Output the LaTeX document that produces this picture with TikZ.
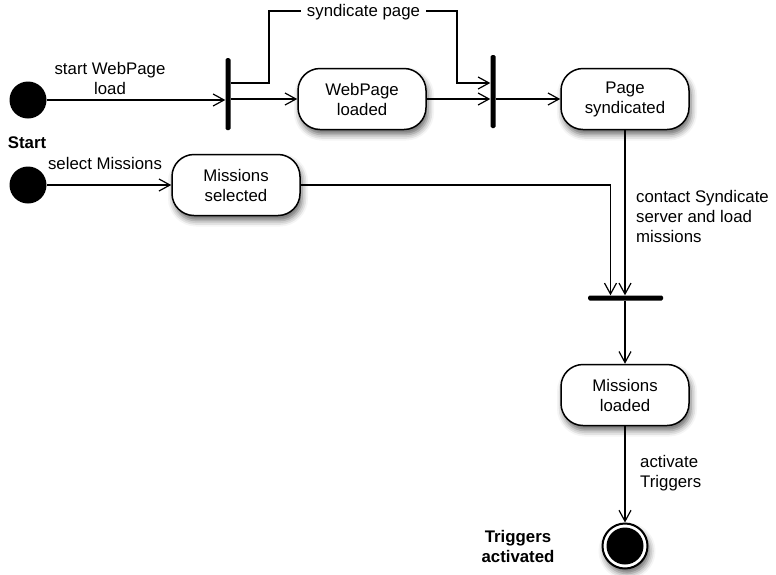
\documentclass[tikz,border=0pt]{standalone}
\usepackage{fontspec}
\setmainfont{Liberation Sans}
\usetikzlibrary{arrows.meta,shadows.blur,calc}
\begin{document}
\begin{tikzpicture}[x=1pt,y=-1pt,
  txt/.style={font=\fontsize{16.8}{20}\selectfont},
  boldtxt/.style={font=\fontsize{16.8}{20}\selectfont\bfseries},
  myshadow/.style={blur shadow={shadow xshift=2pt, shadow yshift=-5pt, shadow blur radius=6pt, shadow opacity=60}},
  state/.style={txt, draw, line width=1.5pt, fill=white, rounded corners=22pt, minimum width=128pt, minimum height=61pt, align=center, inner sep=0pt, myshadow},
  initst/.style={circle, fill=black, minimum size=37pt, inner sep=0pt},
  bar/.style={fill=black, inner sep=0pt, rounded corners=1.5pt},
  arr/.style={line width=1.2pt, -{Straight Barb[length=11pt, width=12pt, line width=1.2pt]}},
  lbl/.style={txt, align=center, inner sep=0pt},
]
\useasboundingbox (0,0) rectangle (776,574);

% initial states
\node[initst] (s1) at (28,100) {};
\node[initst] (s2) at (28,185) {};

% bars
\node[bar, minimum width=5pt, minimum height=72pt] (b1) at (228,94) {};
\node[bar, minimum width=5pt, minimum height=73pt] (b2) at (493,91.5) {};
\node[bar, minimum width=75pt, minimum height=5pt] (b3) at (625.5,298) {};

% states
\node[state] (wpl) at (362,99) {WebPage\\loaded};
\node[state] (ps) at (625,99) {Page\\syndicated};
\node[state] (ms) at (236,185) {Missions\\selected};
\node[state] (ml) at (625,395) {Missions\\loaded};

% final state
\node[circle, draw, line width=2pt, fill=white, minimum size=45pt, inner sep=0pt, myshadow] (fin) at (625,546) {};
\node[circle, fill=black, minimum size=37pt, inner sep=0pt] (finin) at (fin.center) {};

% connectors
\coordinate (syA) at (269,11);
\coordinate (syB) at (457,11);
\draw[arr] (s1) -- (s1 -| b1.west);
\draw[arr] (b1.east |- wpl) -- (wpl.west);
\draw[arr] (b1.east |- 0,83) -| (syA) -- (syB) |- (b2.west |- 0,83);
\node[txt, fill=white, inner xsep=6pt, inner ysep=2pt] (sylbl) at (363.5,12) {syndicate page};
\draw[arr] (wpl.east) -- (wpl.east -| b2.west);
\draw[arr] (b2.east |- ps) -- (ps.west);
\draw[arr] (s2) -- (ms.west);
\draw[arr] (ms.east) -| ([xshift=-15pt]b3.north);
\draw[arr] (ps.south) -- (ps.south |- b3.north);
\draw[arr] (b3.south -| ml) -- (ml.north);
\draw[arr] (ml.south) -- (fin.north);

% labels
\node[lbl] (l1) at (110,78) {start WebPage\\load};
\node[lbl] (l2) at (105,163) {select Missions};
\node[lbl, boldtxt] (l3) at (27,143) {Start};
\node[lbl, align=left, anchor=west] (l4) at (636,216) {contact Syndicate\\server and load\\missions};
\node[lbl, align=left, anchor=west] (l5) at (640,473) {activate\\Triggers};
\node[lbl, boldtxt] (l6) at (518,546) {Triggers\\activated};
\end{tikzpicture}
\end{document}
